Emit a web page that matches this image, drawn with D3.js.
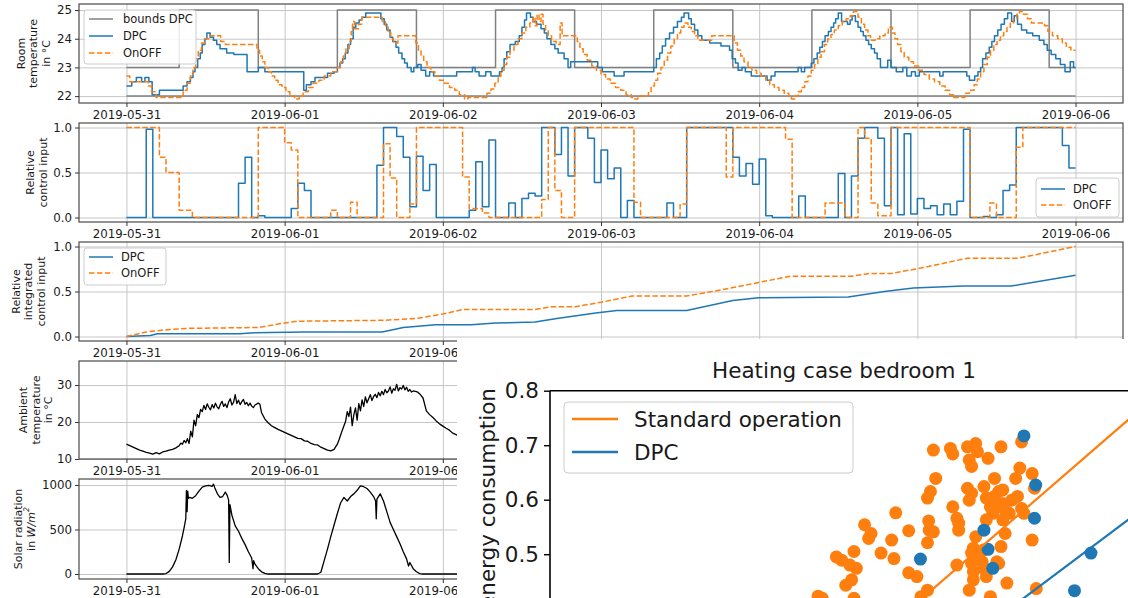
<!DOCTYPE html>
<html>
<head>
<meta charset="utf-8">
<title>DPC vs OnOFF</title>
<script src="https://d3js.org/d3.v7.min.js"></script>
<style>
  * { margin: 0; padding: 0; }
  body { background: #fff; }
  text { font-family: "DejaVu Sans", sans-serif; }
  .grid line { stroke: #c6c6c6; stroke-width: 1; }
  .grid .domain { display: none; }
</style>
</head>
<body>
<svg id="fig" width="1128" height="598"></svg>
<script>
// ---- data (hours since 2019-05-31 00:00) ----
const dayTicks = ["2019-05-31", "2019-06-01", "2019-06-02", "2019-06-03", "2019-06-04", "2019-06-05", "2019-06-06"];

const boundHours = [0, 8, 20, 32, 44, 56, 68, 80, 92, 104, 116, 128, 140, 144];
const boundUpper = [23, 25, 23, 25, 23, 25, 23, 25, 23, 25, 23, 25, 23, 23];
const boundLower = [22, 22, 22, 22, 22, 22, 22, 22, 22, 22, 22, 22, 22, 22];

const dpcTemp = [[0,22.35],[0.8,22.5],[1.5,22.65],[2.3,22.5],[2.8,22.65],[3.4,22.5],[3.9,22.05],[5,22.2],[8.6,22.35],[9.2,22.5],[9.7,22.65],[10.1,22.85],[10.4,23.0],[10.8,23.3],[11.2,23.5],[11.5,23.8],[11.9,24.0],[12.2,24.2],[12.7,24.05],[13.2,23.95],[13.7,23.8],[14.2,23.65],[15.2,23.5],[16.3,23.45],[18.3,22.85],[20,23.0],[21,22.85],[26.9,22.2],[27.3,22.4],[28,22.5],[28.6,22.65],[30.5,22.8],[31.5,22.85],[32,23.0],[32.4,23.15],[32.8,23.3],[33.2,23.5],[33.6,23.8],[34,24.0],[34.4,24.4],[34.8,24.55],[35.3,24.65],[35.7,24.75],[36.3,24.9],[38.6,24.7],[39.1,24.5],[39.5,24.3],[40,24.05],[40.4,23.9],[40.9,23.7],[41.3,23.5],[41.8,23.3],[42.2,23.15],[42.6,23.0],[43.2,22.85],[43.6,23.0],[44.2,23.1],[44.7,22.9],[45.4,22.7],[46,22.85],[46.6,22.7],[50.1,22.85],[52.5,23.0],[52.9,22.85],[53.5,22.7],[54.5,22.85],[55.3,22.7],[56.6,22.85],[57,23.0],[57.3,23.3],[57.7,23.55],[58.2,23.8],[59,23.9],[59.6,24.1],[60,24.4],[60.4,24.65],[60.7,24.9],[61.3,24.75],[61.7,24.6],[62.2,24.5],[62.9,24.35],[63.4,24.2],[63.8,24.0],[64.4,23.8],[65,23.65],[65.5,23.5],[66.4,23.3],[67,23.0],[67.4,23.2],[71.5,23.0],[72.2,22.85],[74,22.7],[75.5,22.85],[80,23.0],[80.4,23.3],[80.9,23.5],[81.3,23.75],[81.8,24.0],[82.4,24.2],[83,24.4],[83.6,24.6],[84.2,24.75],[84.6,24.9],[85.3,24.7],[85.7,24.5],[86.2,24.3],[86.7,24.1],[87.3,23.95],[88.5,23.85],[90.2,23.75],[91.5,23.6],[91.9,23.3],[92.4,23.15],[92.8,22.9],[93.4,23.0],[93.9,22.85],[94.8,22.7],[97.2,22.55],[97.8,22.7],[98.4,22.85],[101.9,23.0],[102.4,22.85],[102.9,23.0],[103.9,23.15],[104.3,23.3],[104.8,23.5],[105.2,23.7],[105.6,23.9],[106,24.1],[106.5,24.25],[106.9,24.4],[107.3,24.55],[107.6,24.7],[108,24.9],[108.5,24.6],[109.4,24.5],[109.8,24.65],[110.1,24.8],[110.6,24.6],[111,24.4],[111.4,24.25],[111.8,24.1],[112.2,23.95],[112.6,23.8],[113,23.65],[113.5,23.5],[113.9,23.3],[114.4,23.0],[115.5,23.25],[116,23.0],[116.8,22.85],[117.8,23.0],[118.4,22.7],[119.1,22.85],[119.7,22.7],[120.3,22.85],[123.4,22.7],[123.9,22.85],[127.5,22.7],[127.9,22.55],[128.7,22.7],[129.2,22.85],[129.6,23.0],[129.9,23.3],[130.4,23.5],[130.9,23.7],[131.3,23.9],[131.7,24.1],[132.2,24.3],[132.7,24.5],[133.2,24.7],[133.7,24.9],[134.3,24.6],[134.7,24.8],[135.2,24.5],[135.8,24.3],[136.6,24.2],[137.5,24.1],[138.5,23.95],[139.2,23.8],[139.7,23.6],[140.3,23.45],[141,23.3],[141.7,23.1],[142.4,22.85],[143.2,23.2],[143.7,23.0],[144,23.0]];

const onoffTemp = [[0,22.7],[0.5,22.5],[3.3,22.35],[3.8,22.15],[4.5,21.95],[8.6,22.2],[9.2,22.45],[9.7,22.7],[10.1,23.0],[10.5,23.3],[10.9,23.6],[11.4,23.85],[11.9,24.0],[12.5,24.1],[14.3,23.9],[15,23.8],[19.8,23.6],[20.2,23.4],[20.6,23.2],[21,23.0],[21.5,22.85],[22,22.7],[22.5,22.55],[23,22.4],[23.6,22.3],[24.2,22.15],[24.8,22.0],[25.5,21.9],[26.2,22.0],[26.8,22.15],[27.6,22.3],[28.3,22.45],[29.2,22.55],[30,22.7],[31,22.85],[32,23.0],[32.5,23.2],[32.9,23.4],[33.3,23.65],[33.8,23.9],[34.1,24.25],[34.3,24.6],[34.6,24.35],[35.2,24.5],[35.7,24.75],[38.8,24.6],[39.3,24.45],[39.7,24.25],[40.1,24.0],[40.5,23.85],[41.2,24.1],[43.9,23.85],[44.3,23.6],[44.7,23.4],[45.1,23.2],[45.6,23.0],[46.2,22.85],[46.8,22.7],[47.5,22.55],[48.2,22.45],[49,22.3],[49.8,22.2],[50.5,22.05],[51.3,21.9],[51.8,21.95],[54.7,22.1],[55.3,22.25],[55.9,22.45],[56.4,22.65],[56.8,22.9],[57.3,23.1],[57.7,23.35],[58.2,23.6],[58.8,23.8],[59.4,24.0],[60,24.2],[60.6,24.4],[61.2,24.55],[61.7,24.75],[62,24.45],[62.3,24.85],[62.6,24.6],[62.9,24.85],[63.2,24.5],[63.6,24.3],[64,24.1],[64.5,23.9],[65.2,23.8],[65.8,24.55],[66.1,24.1],[68.4,23.9],[68.8,23.65],[69.3,23.45],[69.9,23.25],[70.6,23.05],[71.3,22.9],[72,22.75],[72.7,22.6],[73.4,22.45],[74.2,22.3],[75,22.2],[75.8,22.05],[76.6,21.95],[77.1,21.9],[77.6,22.0],[79.2,22.15],[79.6,22.35],[80.1,22.55],[80.6,22.8],[81.1,23.0],[81.6,23.25],[82.1,23.5],[82.6,23.75],[83.1,24.0],[83.6,24.2],[84.1,24.4],[84.6,24.55],[85.2,24.4],[85.7,24.25],[86.2,24.1],[86.7,23.95],[88.8,24.1],[92.2,23.85],[92.7,23.6],[93.2,23.4],[93.7,23.2],[94.3,23.0],[94.9,22.9],[95.6,22.8],[96.3,22.7],[97,22.55],[97.6,22.4],[98.3,22.3],[99,22.2],[99.8,22.1],[100.5,22.0],[100.9,21.9],[101.4,22.0],[101.9,22.15],[102.4,22.3],[102.9,22.5],[103.4,22.7],[103.9,22.9],[104.4,23.1],[104.9,23.35],[105.4,23.55],[105.9,23.8],[106.4,24.0],[106.9,24.15],[107.4,24.3],[108,24.45],[108.6,24.6],[109.2,24.7],[109.8,24.8],[110.3,24.95],[111,24.75],[111.5,24.5],[112,24.3],[112.5,24.1],[112.9,23.95],[113.6,24.0],[114.3,24.1],[115.1,24.2],[115.6,24.4],[116.2,24.2],[116.6,24.0],[117,23.8],[117.5,23.55],[118,23.35],[118.7,23.2],[119.4,23.05],[120.2,22.9],[121,22.75],[121.8,22.6],[122.6,22.5],[123.4,22.35],[124.2,22.2],[124.9,22.05],[125.5,21.95],[127.2,22.1],[127.9,22.2],[128.6,22.4],[129.1,22.6],[129.6,22.85],[130.1,23.1],[130.6,23.35],[131.1,23.6],[131.6,23.8],[132.1,23.95],[132.6,24.1],[133.1,24.25],[133.6,24.4],[134.1,24.55],[134.6,24.7],[135.1,24.85],[135.5,24.95],[136.1,24.85],[136.7,24.7],[137.3,24.55],[139.3,24.45],[139.8,24.25],[140.5,24.1],[141.3,24.0],[142,23.85],[142.6,23.7],[143.3,23.6],[144,23.6]];

const dpcCtrl = [[0,0],[3,0.98],[4,0],[17,0.38],[18,0.67],[19,0],[20,0.02],[21,0],[25,0.1],[26,0.38],[27,0.3],[28,0],[38,0.58],[39,1.0],[41,0.9],[42,0.67],[43,0.12],[44,0.68],[45,0.3],[46,0.59],[47,0],[52,0.08],[53,0.62],[54,0.12],[55,0.86],[56,0],[58,0.16],[59,0],[60,0.21],[61,0.27],[62,0.24],[63,1.0],[65,0.7],[66,1.0],[67,0.46],[68,1.0],[70,0.88],[71,0.39],[72,0.75],[73,0.43],[74,0.55],[75,0],[76,0.19],[77,0],[82,0.16],[83,0],[85,1.0],[92,0.67],[93,0.46],[94,0.6],[95,0.37],[96,0.65],[97,0.02],[98,0],[102,0.24],[103,0],[108,0.49],[109,0],[110,0.46],[111,0.88],[112,1.0],[114,0.88],[115,0.13],[116,1.0],[117,0.03],[118,0.93],[119,0.04],[120,0.21],[121,0.1],[122,0.13],[123,0.03],[124,0.15],[125,0.03],[126,0.18],[127,0.98],[128,0],[130,0.01],[131,0],[132,0.03],[133,0.3],[134,0.36],[135,1.0],[142,0.8],[143,0.55],[144,0.55]];

const onoffCtrl = [[0,1.0],[5,0.67],[6,0.5],[8,0.08],[10,0],[20,1.0],[24,0.83],[25,0.75],[26,0],[31,0.08],[32,0],[34,0.17],[35,0],[39,0.82],[40,0.44],[41,0],[43,0.15],[44,1.0],[51,0.45],[52,0.1],[54,0.05],[55,0],[63,0.2],[64,1.0],[65,0.3],[66,0],[68,1.0],[77,0.17],[78,0],[84,0.15],[85,1.0],[91,0.45],[92,1.0],[100,0.87],[101,0],[106,0.16],[109,0],[111,1.0],[112,0.88],[113,0.16],[114,0.02],[116,1.0],[128,0],[131,0.16],[132,0],[135,0.78],[136,1.0],[144,1.0]];

const dpcInt = [[0,0],[3.6,0.01],[4.7,0.03],[17.2,0.03],[18.8,0.04],[27,0.05],[38.8,0.05],[42,0.1],[46.9,0.13],[52.3,0.13],[56,0.15],[62,0.16],[65.3,0.2],[71.2,0.26],[74.4,0.29],[85,0.29],[92,0.4],[95.9,0.43],[109.5,0.44],[115,0.5],[119.4,0.54],[127,0.56],[134.2,0.56],[144,0.68]];
const onoffInt = [[0,0],[3,0.05],[5.3,0.07],[9,0.09],[20,0.1],[24,0.15],[26,0.17],[39,0.18],[44,0.2],[48,0.25],[51,0.3],[62,0.3],[64.5,0.33],[68,0.33],[72,0.38],[76.7,0.45],[85,0.45],[90.4,0.52],[95.9,0.6],[100.8,0.67],[110,0.67],[112.8,0.7],[116,0.7],[120.5,0.76],[127.6,0.87],[135.3,0.87],[144,1.0]];

const ambient = [[0,14.0],[0.5,13.6],[1,13.2],[1.5,12.8],[2,12.4],[2.5,12.1],[3,11.8],[3.5,11.6],[4,11.3],[4.5,11.7],[5,11.4],[5.5,11.9],[6,12.1],[6.5,12.4],[7,12.6],[7.5,13.0],[8,13.6],[8.25,14.3],[8.5,14.0],[8.75,15.0],[9,14.4],[9.25,15.5],[9.5,14.2],[9.75,17.5],[10,16.0],[10.25,20.5],[10.5,19.0],[10.75,22.0],[11,21.2],[11.25,23.4],[11.5,22.8],[11.75,24.5],[12,23.4],[12.25,24.9],[12.5,24.0],[12.75,23.3],[13,24.7],[13.25,23.8],[13.5,25.1],[13.75,24.1],[14,23.6],[14.25,24.8],[14.5,25.6],[14.75,24.2],[15,24.9],[15.25,23.9],[15.5,25.4],[15.75,26.3],[16,24.6],[16.25,25.3],[16.5,27.4],[16.75,25.0],[17,25.9],[17.25,24.7],[17.5,25.5],[17.75,26.1],[18,24.8],[18.25,25.3],[18.5,24.4],[18.75,25.1],[19,24.3],[19.25,23.9],[19.5,24.6],[20,25.1],[20.25,24.8],[20.5,22.5],[21,20.8],[21.5,19.8],[22,19.0],[22.5,18.5],[23,18.0],[23.5,17.6],[24,17.2],[24.5,16.8],[25,16.4],[25.5,16.0],[26,15.6],[26.5,15.5],[27,14.9],[27.5,14.8],[28,14.2],[28.5,13.9],[29,13.8],[29.5,13.2],[30,12.8],[30.5,12.4],[31,12.2],[31.5,12.6],[32,14.0],[32.25,15.2],[32.5,16.5],[32.75,17.8],[33,19.0],[33.25,20.2],[33.5,22.8],[33.75,21.5],[34,24.0],[34.25,19.0],[34.5,22.0],[34.75,23.8],[35,20.5],[35.25,25.0],[35.5,23.0],[35.75,26.0],[36,24.2],[36.25,26.8],[36.5,25.2],[36.75,26.3],[37,27.4],[37.25,25.8],[37.5,26.9],[37.75,27.5],[38,26.6],[38.25,28.0],[38.5,27.1],[38.75,28.3],[39,27.4],[39.25,28.8],[39.5,27.9],[39.75,28.4],[40,29.5],[40.25,27.8],[40.5,29.0],[40.75,28.6],[41,30.2],[41.25,28.4],[41.5,29.3],[41.75,28.9],[42,29.9],[42.25,28.7],[42.5,29.4],[42.75,28.3],[43,28.8],[43.25,28.1],[43.5,28.4],[44,28.2],[44.25,28.0],[44.5,27.6],[45,26.5],[45.5,23.0],[46,22.0],[46.5,21.2],[47,20.3],[47.5,19.5],[48,18.9],[48.5,18.3],[49,17.8],[49.5,17.0],[50,16.6],[50.5,16.2],[51,15.8]];

const solar = [[0,0],[5.5,0],[6,5],[6.5,30],[7,80],[7.5,160],[8,280],[8.5,430],[8.75,520],[9,620],[9.1,940],[9.2,700],[9.3,930],[9.4,850],[9.6,860],[10,850],[10.5,880],[11,930],[11.5,975],[12,990],[12.5,995],[13,985],[13.2,1010],[13.4,970],[13.8,900],[14.2,860],[14.6,870],[15,920],[15.3,880],[15.5,830],[15.6,130],[15.7,780],[16,660],[16.5,540],[17,480],[17.5,400],[18,330],[18.5,250],[19,180],[19.2,60],[19.3,150],[19.5,110],[20,60],[20.5,25],[21,8],[21.5,0],[29,0],[29.5,20],[30,150],[30.5,280],[31,420],[31.5,550],[32,680],[32.5,800],[33,860],[33.5,820],[34,870],[34.5,900],[35,940],[35.5,990],[36,980],[36.5,960],[37,920],[37.5,870],[37.8,820],[37.9,620],[38,840],[38.5,900],[39,820],[39.5,700],[40,580],[40.5,500],[41,420],[41.5,340],[42,250],[42.5,170],[42.8,90],[43,130],[43.5,60],[44,25],[44.5,5],[45,0],[51,0]];

// scatter: heating case bedroom 1
const stdX = [0.487,0.496,0.510,0.517,0.521,0.503,0.513,0.456,0.463,0.517,0.535,0.546,0.542,0.563,0.581,0.585,0.588,0.610,0.610,0.624,0.631,0.642,0.642,0.644,0.645,0.652,0.642,0.647,0.656,0.652,0.681,0.685,0.685,0.692,0.695,0.695,0.692,0.710,0.713,0.717,0.724,0.727,0.745,0.710,0.713,0.717,0.720,0.717,0.717,0.720,0.720,0.713,0.724,0.727,0.738,0.742,0.735,0.738,0.742,0.749,0.753,0.756,0.756,0.760,0.763,0.767,0.770,0.770,0.774,0.777,0.774,0.781,0.785,0.792,0.795,0.799,0.802,0.802,0.806,0.820,0.824,0.820,0.827,0.742,0.749,0.760,0.770,0.738,0.763,0.767,0.745];
const stdY = [0.495,0.489,0.480,0.505,0.474,0.443,0.453,0.423,0.419,0.419,0.554,0.538,0.529,0.502,0.526,0.492,0.576,0.543,0.466,0.459,0.422,0.434,0.521,0.561,0.544,0.541,0.603,0.615,0.639,0.691,0.694,0.684,0.587,0.566,0.557,0.544,0.480,0.697,0.673,0.661,0.703,0.688,0.676,0.621,0.599,0.612,0.511,0.502,0.483,0.468,0.453,0.434,0.532,0.502,0.624,0.603,0.486,0.474,0.459,0.422,0.575,0.639,0.606,0.486,0.615,0.697,0.618,0.593,0.581,0.447,0.538,0.575,0.599,0.639,0.606,0.658,0.706,0.584,0.575,0.648,0.621,0.526,0.437,0.563,0.587,0.587,0.563,0.508,0.483,0.514,0.410];
const dpcX = [0.630,0.806,0.826,0.824,0.738,0.745,0.753,0.920,0.892];
const dpcY = [0.491,0.717,0.627,0.566,0.544,0.509,0.474,0.502,0.433];
const fitIntercept = [-0.172, -0.234];   // standard operation, DPC
const fitSlope = [0.934, 0.811];
const scatterTicks = [0.5, 0.6, 0.7, 0.8];

const BLUE = "#1f77b4", ORANGE = "#ff7f0e", GRAY = "#808080";

// ---- scales / helpers ----
const T0 = Date.UTC(2019, 4, 31);
const toDate = h => new Date(T0 + h * 3600e3);
const dayDates = dayTicks.map(s => new Date(s + "T00:00:00Z"));

const svg = d3.select("#fig");
const L = 79, R = 1123;
const INSET_X = 457, INSET_Y = 339;   // where the scatter figure sits on top
const x = d3.scaleUtc().domain([toDate(-7.2), toDate(151.2)]).range([L, R]);
const fmtDay = d3.utcFormat("%Y-%m-%d");

let clipId = 0;
function panel(cfg) {
  const g = svg.append("g");
  const y = d3.scaleLinear().domain(cfg.yDomain).range([cfg.bottom, cfg.top]);
  const h = cfg.bottom - cfg.top;

  g.append("g").attr("class", "grid").attr("transform", `translate(0,${cfg.bottom})`)
    .call(d3.axisBottom(x).tickValues(dayDates).tickSize(-h).tickFormat(""));
  g.append("g").attr("class", "grid").attr("transform", `translate(${L},0)`)
    .call(d3.axisLeft(y).tickValues(cfg.ticks).tickSize(-(R - L)).tickFormat(""));

  const id = "clip" + (clipId++);
  g.append("clipPath").attr("id", id).append("rect")
    .attr("x", L).attr("y", cfg.top).attr("width", R - L).attr("height", h);
  const plot = g.append("g").attr("clip-path", `url(#${id})`);

  g.append("rect").attr("x", L).attr("y", cfg.top).attr("width", R - L).attr("height", h)
    .attr("fill", "none").attr("stroke", "#4a4a4a").attr("stroke-width", 1.2);

  const ax = g.append("g").attr("transform", `translate(0,${cfg.bottom})`)
    .call(d3.axisBottom(x).tickValues(dayDates).tickFormat(fmtDay).tickSize(4).tickPadding(4));
  if (cfg.hidden) {
    // labels that lie under the scatter figure are not shown
    ax.selectAll(".tick").filter(d => x(d) > INSET_X + 10).remove();
    const cid = "clip" + (clipId++);
    g.append("clipPath").attr("id", cid).append("rect")
      .attr("x", 0).attr("y", 0).attr("width", INSET_X).attr("height", 598);
    ax.attr("clip-path", `url(#${cid})`);
  }
  const ay = g.append("g").attr("transform", `translate(${L},0)`)
    .call(d3.axisLeft(y).tickValues(cfg.ticks).tickFormat(cfg.fmt).tickSize(4).tickPadding(3));
  [ax, ay].forEach(a => {
    a.select(".domain").remove();
    a.attr("font-family", "DejaVu Sans, sans-serif").attr("font-size", 11.8);
    a.selectAll(".tick line").attr("stroke", "#333");
    a.selectAll(".tick text").attr("fill", "#1a1a1a");
  });

  cfg.label.forEach((t, i) => {
    const cx = cfg.labelX[i], cy = (cfg.top + cfg.bottom) / 2;
    const tt = g.append("text").attr("font-size", 11).attr("fill", "#1a1a1a")
      .attr("text-anchor", "middle").attr("dominant-baseline", "central")
      .attr("transform", `translate(${cx},${cy}) rotate(-90)`);
    if (Array.isArray(t)) {
      t.forEach(p => {
        const s = tt.append("tspan").text(p.s);
        if (p.it) s.attr("font-style", "italic");
        if (p.sup) s.attr("baseline-shift", "super").attr("font-size", 7.8);
      });
    } else tt.text(t);
  });
  return { g, plot, y };
}

function series(p, data, color, opts = {}) {
  const line = d3.line().x(d => x(toDate(d[0]))).y(d => p.y(d[1]));
  if (opts.step) line.curve(d3.curveStepAfter);
  p.plot.append("path").datum(data).attr("d", line)
    .attr("fill", "none").attr("stroke", color)
    .attr("stroke-width", opts.w || 1.5)
    .attr("stroke-dasharray", opts.dash ? "5.5,2.4" : null)
    .attr("stroke-linejoin", "round");
}

function legend(p, box, items) {
  const g = p.g.append("g");
  g.append("rect").attr("x", box.x).attr("y", box.y).attr("width", box.w).attr("height", box.h)
    .attr("rx", 3).attr("fill", "#fff").attr("fill-opacity", 0.85)
    .attr("stroke", "#cccccc").attr("stroke-width", 1);
  items.forEach((it, i) => {
    const yy = box.y + box.first + i * box.step;
    g.append("line").attr("x1", box.x + 5).attr("x2", box.x + 29).attr("y1", yy).attr("y2", yy)
      .attr("stroke", it.c).attr("stroke-width", 1.5)
      .attr("stroke-dasharray", it.dash ? "5.5,2.4" : null);
    g.append("text").attr("x", box.x + box.tx).attr("y", yy).attr("dominant-baseline", "central")
      .attr("font-size", 11.5).attr("fill", "#1a1a1a").text(it.t);
  });
}

const f1 = d3.format(".1f"), f0 = d3.format("d");
const zipBounds = vals => boundHours.map((h, i) => [h, vals[i]]);

// ---- panel 1: room temperature ----
const p1 = panel({ top: 4, bottom: 103, yDomain: [21.76, 25.21], ticks: [22, 23, 24, 25], fmt: f0,
  label: ["Room", "temperature", "in °C"], labelX: [21, 33, 46] });
series(p1, zipBounds(boundUpper), GRAY, { step: true });
series(p1, zipBounds(boundLower), GRAY, { step: true });
series(p1, dpcTemp, BLUE, { step: true });
series(p1, onoffTemp, ORANGE, { step: true, dash: true });
legend(p1, { x: 84, y: 10, w: 112, h: 54, first: 9, step: 17, tx: 39 },
  [{ t: "bounds DPC", c: GRAY }, { t: "DPC", c: BLUE }, { t: "OnOFF", c: ORANGE, dash: true }]);

// ---- panel 2: relative control input ----
const p2 = panel({ top: 123, bottom: 222, yDomain: [-0.05, 1.05], ticks: [0, 0.5, 1], fmt: f1,
  label: ["Relative", "control input"], labelX: [30, 43] });
series(p2, dpcCtrl, BLUE, { step: true });
series(p2, onoffCtrl, ORANGE, { step: true, dash: true });
legend(p2, { x: 1036, y: 178, w: 83, h: 39, first: 11, step: 16, tx: 37 },
  [{ t: "DPC", c: BLUE }, { t: "OnOFF", c: ORANGE, dash: true }]);

// ---- panel 3: integrated control input ----
const p3 = panel({ top: 242, bottom: 341, yDomain: [-0.05, 1.05], ticks: [0, 0.5, 1], fmt: f1,
  label: ["Relative", "integrated", "control input"], labelX: [16, 28, 41], hidden: true });
series(p3, dpcInt, BLUE);
series(p3, onoffInt, ORANGE, { dash: true });
legend(p3, { x: 84, y: 248, w: 82, h: 37, first: 9, step: 16, tx: 37 },
  [{ t: "DPC", c: BLUE }, { t: "OnOFF", c: ORANGE, dash: true }]);

// ---- panel 4: ambient temperature ----
const p4 = panel({ top: 361, bottom: 459, yDomain: [10, 36.5], ticks: [10, 20, 30], fmt: f0,
  label: ["Ambient", "temperature", "in °C"], labelX: [23, 36, 48], hidden: true });
series(p4, ambient, "#000", { w: 1.3 });

// ---- panel 5: solar radiation ----
const p5 = panel({ top: 479, bottom: 579, yDomain: [-56, 1067], ticks: [0, 500, 1000], fmt: f0,
  label: ["Solar radiation", [{ s: "in " }, { s: "W/m", it: true }, { s: "2", it: true, sup: true }]],
  labelX: [18, 31], hidden: true });
series(p5, solar, "#000", { w: 1.3 });

// ---- inset figure: scatter (placed over the lower right) ----
svg.append("rect").attr("x", INSET_X).attr("y", INSET_Y).attr("width", 1128 - INSET_X)
  .attr("height", 598 - INSET_Y).attr("fill", "#fff");

const sc = svg.append("g");
const sx = d3.scaleLinear().domain([0, 1]).range([550, 1138]);
const sy = d3.scaleLinear().domain([0.3, 0.8]).range([663.2, 390.7]);

sc.append("clipPath").attr("id", "scClip").append("rect")
  .attr("x", 550).attr("y", 390.7).attr("width", 588).attr("height", 300);
const sp = sc.append("g").attr("clip-path", "url(#scClip)");

sp.selectAll("circle.std").data(stdX).join("circle").attr("class", "std")
  .attr("cx", d => sx(d)).attr("cy", (d, i) => sy(stdY[i])).attr("r", 6.5).attr("fill", ORANGE);
sp.selectAll("circle.dpc").data(dpcX).join("circle").attr("class", "dpc")
  .attr("cx", d => sx(d)).attr("cy", (d, i) => sy(dpcY[i])).attr("r", 6.5).attr("fill", BLUE);

const fitLine = d3.line().x(d => sx(d[0])).y(d => sy(d[1]));
[ORANGE, BLUE].forEach((c, k) => {
  const pts = [0.3, 1.05].map(v => [v, fitIntercept[k] + fitSlope[k] * v]);
  sp.append("path").datum(pts).attr("d", fitLine).attr("stroke", c).attr("stroke-width", 2.2).attr("fill", "none");
});

sc.append("line").attr("x1", 550).attr("x2", 550).attr("y1", 390.7).attr("y2", 700).attr("stroke", "#000").attr("stroke-width", 1.6);
sc.append("line").attr("x1", 550).attr("x2", 1138).attr("y1", 390.7).attr("y2", 390.7).attr("stroke", "#000").attr("stroke-width", 1.6);

const say = sc.append("g").attr("transform", "translate(550,0)")
  .call(d3.axisLeft(sy).tickValues(scatterTicks).tickFormat(f1).tickSize(6).tickPadding(5));
say.select(".domain").remove();
say.attr("font-family", "DejaVu Sans, sans-serif").attr("font-size", 21.5);
say.selectAll(".tick line").attr("stroke", "#000").attr("stroke-width", 1.4);
say.selectAll(".tick text").attr("fill", "#1a1a1a");

sc.append("text").attr("x", 844).attr("y", 378).attr("text-anchor", "middle")
  .attr("font-size", 21.5).attr("fill", "#1a1a1a").text("Heating case bedroom 1");
sc.append("text").attr("transform", "translate(487,388) rotate(-90)")
  .attr("text-anchor", "end").attr("dominant-baseline", "central")
  .attr("font-size", 21.5).attr("fill", "#1a1a1a").text("Relative energy consumption");

const lg = sc.append("g");
lg.append("rect").attr("x", 564).attr("y", 402).attr("width", 289).attr("height", 71).attr("rx", 4)
  .attr("fill", "#fff").attr("fill-opacity", 0.85).attr("stroke", "#cccccc");
[{ t: "Standard operation", c: ORANGE }, { t: "DPC", c: BLUE }].forEach((it, i) => {
  const yy = 419 + i * 33;
  lg.append("line").attr("x1", 572).attr("x2", 618).attr("y1", yy).attr("y2", yy)
    .attr("stroke", it.c).attr("stroke-width", 2.5);
  lg.append("text").attr("x", 634).attr("y", yy).attr("dominant-baseline", "central")
    .attr("font-size", 21.5).attr("fill", "#1a1a1a").text(it.t);
});
</script>
</body>
</html>
